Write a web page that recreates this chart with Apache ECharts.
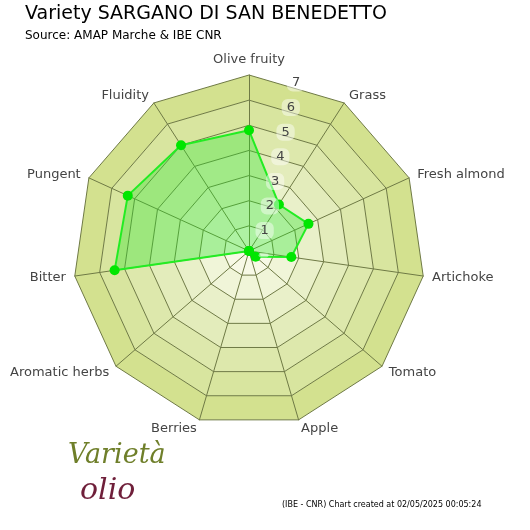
<!DOCTYPE html>
<html><head><meta charset="utf-8">
<script src="https://cdn.jsdelivr.net/npm/echarts@6/dist/echarts.min.js"></script>
<style>body{margin:0}#c{width:530px;height:530px}</style></head>
<body><div id="c"></div>
<script>
// clockwise order as in the reference
var indicators = ['Olive fruity','Grass','Fresh almond','Artichoke','Tomato','Apple','Berries','Aromatic herbs','Bitter','Pungent','Fluidity'];
var values = [4.8, 2.2, 2.6, 1.7, 0.35, 0, 0, 0, 5.4, 5.3, 5.0];
var maxValue = 7;
var tickLabels = ['1','2','3','4','5','6','7'];

// ECharts radar runs counter-clockwise, so flip everything after the first axis
function cw(arr) { return [arr[0]].concat(arr.slice(1).reverse()); }

var chart = echarts.init(document.getElementById('c'));
chart.setOption({
    backgroundColor: '#fff',
    title: {
        text: 'Variety SARGANO DI SAN BENEDETTO',
        subtext: 'Source: AMAP Marche & IBE CNR',
        left: 20, top: 0,
        textStyle: {fontFamily: 'DejaVu Sans', fontWeight: 'normal', fontSize: 19, color: '#000'},
        subtextStyle: {fontFamily: 'DejaVu Sans', fontSize: 12, color: '#000'},
        itemGap: 6
    },
    radar: {
        center: [249, 251],
        radius: 176,
        startAngle: 90,
        splitNumber: 7,
        indicator: cw(indicators).map(function (n) { return {name: n, max: maxValue, min: 0}; }),
        axisName: {color: '#444', fontFamily: 'DejaVu Sans', fontSize: 13},
        nameGap: 9,
        splitLine: {lineStyle: {color: '#6f7a45', width: 1}},
        axisLine: {lineStyle: {color: '#6f7a45'}},
        splitArea: {areaStyle: {color: ['#f7f9e6','#f0f5d8','#e9f0c9','#e3ecbb','#dde8ac','#d8e59f','#d3e18f']}}
    },
    polar: {center: [249, 251], radius: 176},
    angleAxis: {startAngle: 78, show: false, min: 0, max: 360},
    radiusAxis: {
        min: 0, max: maxValue, interval: 1,
        axisLine: {show: false}, axisTick: {show: false}, splitLine: {show: false},
        axisLabel: {
            formatter: function (v) { return tickLabels.indexOf(String(v)) >= 0 ? String(v) : ''; },
            color: '#444', fontSize: 13, fontFamily: 'DejaVu Sans',
            backgroundColor: 'rgba(255,255,255,0.45)', borderRadius: 6, padding: [2, 5],
            margin: -20
        },
        z: 10
    },
    series: [{
        type: 'radar',
        symbol: 'circle', symbolSize: 10,
        itemStyle: {color: '#00e600'},
        lineStyle: {color: '#22ee22', width: 2},
        areaStyle: {color: 'rgba(40,230,40,0.5)'},
        data: [{value: cw(values)}]
    }],
    graphic: [
        {type: 'text', left: 68, top: 442, style: {text: 'Varietà', fontSize: 27, fontStyle: 'italic', fill: '#6f7f2a', fontFamily: 'DejaVu Serif'}},
        {type: 'text', left: 80, top: 476, style: {text: 'olio', fontSize: 30, fontStyle: 'italic', fill: '#6f1f3a', fontFamily: 'DejaVu Serif'}},
        {type: 'text', left: 282, top: 501, style: {text: '(IBE - CNR) Chart created at 02/05/2025 00:05:24', fontSize: 8, fill: '#000', fontFamily: 'DejaVu Sans'}}
    ]
});
</script></body></html>
